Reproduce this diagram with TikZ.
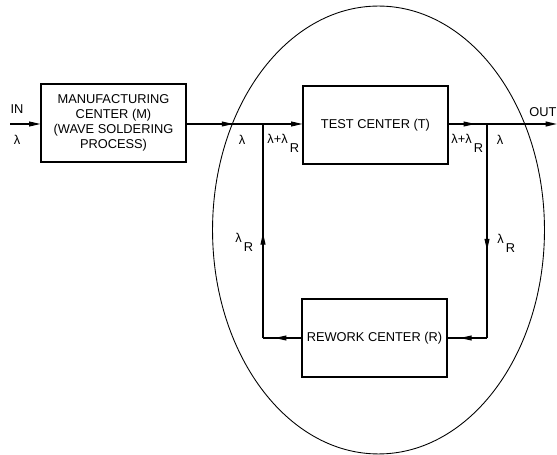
\documentclass[tikz,border=0pt]{standalone}
\usepackage{fontspec}
\setmainfont{Liberation Sans}
\usetikzlibrary{positioning,arrows.meta,decorations.markings,shapes.geometric}

\newcommand{\lamR}{λ\,\raisebox{-5pt}{R}}

\begin{document}
\begin{tikzpicture}[x=0.02cm, y=-0.02cm,
    font=\fontsize{7.3}{8.6}\selectfont,
    box/.style={draw, line width=0.6pt, minimum width=2.9cm, minimum height=1.56cm, align=center, inner sep=1pt},
    flow/.style={line width=0.6pt},
    tip/.style={-{Triangle[length=6.5pt,width=2.8pt]}},
    midarrow/.style={postaction={decorate}, decoration={markings, mark=at position #1 with {\arrow{Triangle[length=6.5pt,width=2.8pt]}}}},
    lbl/.style={inner sep=0pt}
]
\useasboundingbox (0,0) rectangle (557,455);

% boundary of the test/rework loop
\node[draw, ellipse, line width=0.5pt, minimum width=6.64cm, minimum height=8.96cm, inner sep=0pt] (loop) at (378.5,230) {};

% centers
\node[box] (mfg) at (113.5,123) {MANUFACTURING\\CENTER (M)\\(WAVE SOLDERING\\PROCESS)};
\node[box] (test) at (375.5,125) {TEST CENTER (T)};
\node[box] (rework) at (374.5,338) {REWORK CENTER (R)};

% junctions
\coordinate (in) at (10,124);
\coordinate (jl) at (263,124);
\coordinate (jr) at (487,124);
\coordinate (out) at (557,124);
\coordinate (bl) at (263,338);
\coordinate (br) at (487,338);

% main flow
\draw[flow, tip] (in) -- (mfg.west |- in);
\draw[flow, midarrow=0.61] (mfg.east |- jl) -- (jl);
\draw[flow, tip] (jl) -- (test.west |- jl);
\draw[flow, midarrow=0.69] (test.east |- jr) -- (jr);
\draw[line width=0.9pt, tip] (jr) -- (out);

% rework loop
\draw[flow, midarrow=0.59] (jr) -- (br);
\draw[flow, midarrow=0.68] (br) -- (rework.east |- br);
\draw[flow, midarrow=0.69] (rework.west |- bl) -- (bl);
\draw[flow, midarrow=0.49] (bl) -- (jl);

% labels
\node[lbl] (inlbl) at (17,109) {IN};
\node[lbl] (lamin) at (17,140) {λ};
\node[lbl] (outlbl) at (543,112) {OUT};
\node[lbl] (lamM) at (242,140) {λ};
\node[lbl, anchor=west] (lamTin) at (267,143) {λ+\lamR};
\node[lbl, anchor=west] (lamTout) at (451,143) {λ+\lamR};
\node[lbl] (lamout) at (500,140) {λ};
\node[lbl, anchor=west] (lamRl) at (235,242) {\lamR};
\node[lbl, anchor=west] (lamRr) at (497,243) {\lamR};
\end{tikzpicture}
\end{document}
